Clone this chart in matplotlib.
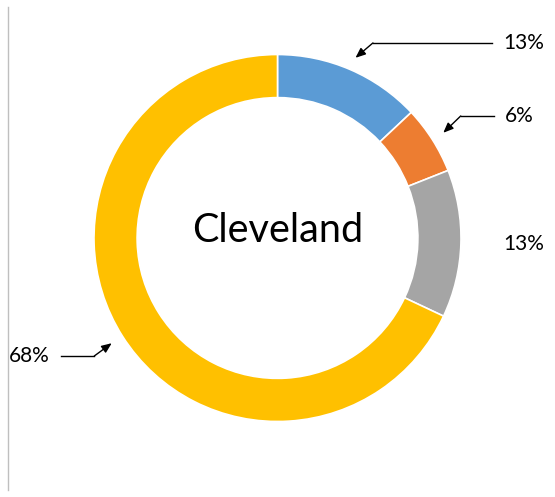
import matplotlib
matplotlib.use("Agg")
import matplotlib.pyplot as plt
import numpy as np

# Daten
labels = ["13%", "6%", "13%", "68%"]
values = [13, 6, 13, 68]
colors = ["#5b9bd5", "#ed7d31", "#a5a5a5", "#ffc000"]
center_title = "Cleveland"

plt.rcParams['font.family'] = ['Lato', 'DejaVu Sans']

W, H = 555, 497
fig = plt.figure(figsize=(W / 100, H / 100), dpi=100)
ax = fig.add_axes([0, 0, 1, 1])

wedges, _ = ax.pie(values, colors=colors, startangle=90, counterclock=False,
                   radius=1.0,
                   wedgeprops=dict(width=0.235, edgecolor='white', linewidth=1.2))

# Mittelpunkt des Rings bei (277, 238) px, Radius 183 px
cx, cy, R = 277.5, 238, 183.5
ax.set_xlim(-cx / R, (W - cx) / R)
ax.set_ylim(-(H - cy) / R, cy / R)
ax.axis('off')

ax.text(0, 0.04, center_title, ha='center', va='center', fontsize=28.5, color='black')

# Positionen der Beschriftungen (x, y); x = Textkante zum Ring hin
label_xy = [(1.229, 1.063), (1.240, 0.665), (1.229, -0.033), (-1.240, -0.643)]
has_arrow = [True, True, False, True]
line_gap = 0.06

start = 90.0
for i, v in enumerate(values):
    mid = np.deg2rad(start - v * 3.6 / 2)
    start -= v * 3.6
    tx, ty = label_xy[i]
    side = 1 if tx > 0 else -1
    ax.text(tx, ty, labels[i], ha='left' if side > 0 else 'right', va='center',
            fontsize=15, color='black')
    if not has_arrow[i]:
        continue
    tip = (1.07 * np.cos(mid), 1.07 * np.sin(mid))
    bend = (tip[0] + side * 0.095, ty)
    line_end = tx - side * line_gap
    ax.plot([bend[0], line_end], [ty, ty], color='black', lw=1.0)
    ax.annotate('', xy=tip, xytext=bend,
                arrowprops=dict(arrowstyle='-|>,head_length=0.6,head_width=0.25',
                                color='black', lw=1.0, shrinkA=0, shrinkB=0))

# senkrechte Linie links
fig.add_artist(plt.Line2D([7.5 / W, 7.5 / W], [1 - 7 / H, 1 - 490 / H],
                          color='#bfbfbf', lw=1))

fig.savefig("out.png", dpi=100)
